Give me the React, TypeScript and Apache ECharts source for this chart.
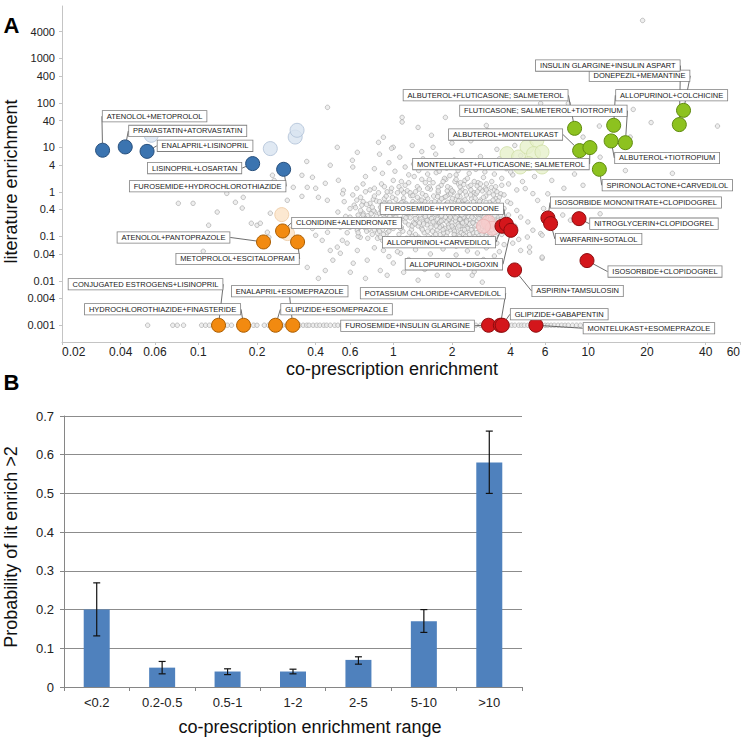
import React, { useEffect, useRef } from "react";
import * as echarts from "echarts";

const FONT = "'Liberation Sans', Arial, Helvetica, sans-serif";

// ---------- Panel A : axes ----------
const X_TICKS = [0.02, 0.04, 0.06, 0.1, 0.2, 0.4, 0.6, 1, 2, 4, 6, 10, 20, 40, 60];
const Y_TICKS = [0.001, 0.004, 0.01, 0.04, 0.1, 0.4, 1, 4, 10, 40, 100, 400, 1000, 4000];
const X_MIN = 0.02;
const X_MAX = 60;
const Y_MIN = 0.00042;
const Y_MAX = 15000;

// ---------- Panel A : gray background pairs ----------
const GRAY_OUTLIERS: [number, number][] = [
  [19, 7100], [0.46, 79], [1.11, 47], [1.11, 37], [1.85, 47], [1.34, 28], [1.57, 18.6], [3.0, 31], [3.05, 24],
  [5.7, 97], [7.9, 97], [17, 71], [21, 36], [46, 30], [9.4, 17], [16.4, 17], [11.5, 6], [15.5, 3.0], [27, 2.6],
  [11.4, 30], [0.89, 16.8], [1.0, 10], [4.75, 1.18], [5.2, 0.91], [5.5, 0.64], [5.9, 0.42], [4.5, 0.27],
  [4.9, 0.21], [5.2, 0.137], [5.7, 0.115], [4.87, 0.096], [5.0, 0.057], [5.8, 0.032], [7.4, 0.3], [8.1, 0.23],
  [11.5, 0.32], [9.4, 1.4], [7.45, 0.081], [4.1, 0.07], [1.34, 0.0103], [1.91, 0.0133], [2.86, 0.0093],
  [2.54, 0.0133], [1.68, 0.0133], [5.8, 0.106], [5.8, 0.034], [5.0, 0.044], [4.5, 0.048],
];

const GRAY_LEFT: [number, number][] = [
  [0.079, 0.55], [0.094, 0.55], [0.155, 0.58], [0.14, 0.92], [0.168, 0.43], [0.125, 0.35], [0.113, 0.177],
  [0.187, 0.196], [0.2, 0.177], [0.106, 0.046], [0.226, 0.123], [0.23, 0.095], [0.17, 0.75], [0.24, 2.35],
  [0.245, 1.8], [0.34, 2.35], [0.36, 4.8], [0.475, 3.95], [0.617, 5.1], [0.516, 10], [0.654, 7.7], [0.84, 12.9],
  [0.385, 2.12], [0.307, 1.26], [0.362, 1.26], [0.4, 1.2], [0.448, 1.55], [0.523, 1.81], [0.555, 1.08],
  [0.286, 0.644], [0.34, 0.79], [0.413, 0.75], [0.459, 0.644], [0.234, 0.33], [0.208, 0.196], [0.385, 0.15],
  [0.4, 0.105], [0.432, 0.081], [0.46, 0.123], [0.475, 0.048], [0.362, 0.02], [0.413, 0.0113], [0.448, 0.017],
  [0.602, 0.0155], [0.72, 0.0113], [0.623, 0.0248], [0.735, 0.029], [0.858, 0.017], [0.535, 0.0415],
  [0.49, 0.029], [0.93, 0.0133], [0.548, 0.081], [0.58, 0.07], [0.516, 0.057], [0.654, 0.048], [0.677, 0.095],
  [0.49, 0.229], [0.535, 0.16], [0.6, 0.16], [0.6, 0.27], [0.654, 0.137], [0.7, 0.33], [0.745, 0.177],
  [0.83, 0.117], [0.83, 0.229], [0.88, 0.081], [0.89, 0.048], [0.965, 0.16], [1.0, 0.025], [1.09, 0.0415],
  [1.13, 0.0155],
];

const GRAY_LEFT_CORE: [number, number][] = [
  [0.52, 0.35], [0.54, 0.18], [0.56, 0.6], [0.58, 0.12], [0.6, 0.42], [0.62, 0.85], [0.64, 0.23], [0.66, 0.1],
  [0.68, 0.38], [0.7, 0.18], [0.72, 1.0], [0.74, 0.29], [0.76, 0.55], [0.78, 0.11], [0.8, 0.36], [0.82, 0.16],
  [0.84, 0.95], [0.86, 0.45], [0.88, 0.14], [0.9, 0.7], [0.92, 0.31], [0.94, 0.09], [0.55, 0.9], [0.6, 0.22],
  [0.65, 1.2], [0.7, 0.6], [0.75, 0.4], [0.8, 0.24], [0.85, 0.13], [0.9, 0.42], [0.95, 0.19], [0.57, 0.28],
  [0.63, 0.5], [0.67, 0.16], [0.73, 0.21], [0.79, 0.68], [0.83, 0.09], [0.89, 0.3], [0.93, 0.56], [0.97, 1.0],
];

const GRAY_CORE: [number, number][] = [
  [0.62, 0.21], [0.64, 0.44], [0.66, 0.12], [0.68, 0.75], [0.7, 0.3], [0.71, 0.16], [0.73, 0.52], [0.74, 0.09],
  [0.76, 1.1], [0.77, 0.24], [0.79, 0.38], [0.8, 0.14], [0.82, 0.62], [0.83, 0.2], [0.85, 0.33], [0.86, 0.095],
  [0.87, 1.5], [0.88, 0.47], [0.9, 0.26], [0.91, 0.17], [0.92, 0.8], [0.93, 0.12], [0.95, 0.36], [0.96, 0.58],
  [0.97, 0.22], [0.98, 1.2], [1.0, 0.15], [1.0, 0.42], [1.01, 0.29], [1.02, 0.07], [1.03, 0.68], [1.04, 0.19],
  [1.05, 0.95], [1.06, 0.34], [1.07, 0.11], [1.08, 0.5], [1.09, 0.24], [1.1, 1.7], [1.1, 0.16], [1.11, 0.39],
  [1.12, 0.13], [1.13, 0.72], [1.14, 0.28], [1.15, 0.21], [1.16, 0.55], [1.17, 0.09], [1.18, 1.05], [1.19, 0.33],
  [1.2, 0.18], [1.21, 0.45], [1.22, 0.26], [1.23, 0.82], [1.24, 0.14], [1.25, 0.37], [1.26, 0.6], [1.27, 0.2],
  [1.28, 2.2], [1.29, 0.3], [1.3, 0.11], [1.31, 0.48], [1.32, 0.23], [1.33, 1.3], [1.34, 0.17], [1.35, 0.4],
  [1.36, 0.08], [1.37, 0.65], [1.38, 0.27], [1.39, 0.35], [1.4, 0.15], [1.41, 0.9], [1.42, 0.21], [1.43, 0.52],
  [1.44, 0.12], [1.45, 0.32], [1.46, 1.6], [1.47, 0.25], [1.48, 0.44], [1.49, 0.18], [1.5, 0.7], [1.51, 0.1],
  [1.52, 0.29], [1.53, 0.38], [1.54, 0.22], [1.55, 1.15], [1.56, 0.16], [1.57, 0.57], [1.58, 0.34], [1.59, 0.13],
  [1.6, 0.26], [1.61, 0.8], [1.62, 0.42], [1.63, 0.19], [1.64, 0.07], [1.65, 0.31], [1.66, 2.7], [1.67, 0.5],
  [1.68, 0.14], [1.69, 0.24], [1.7, 0.95], [1.71, 0.36], [1.72, 0.2], [1.73, 0.62], [1.74, 0.11], [1.75, 0.28],
  [1.76, 1.4], [1.77, 0.17], [1.78, 0.46], [1.79, 0.33], [1.8, 0.09], [1.81, 0.23], [1.82, 0.74], [1.83, 0.4],
  [1.84, 0.15], [1.85, 0.27], [1.86, 1.9], [1.87, 0.54], [1.88, 0.21], [1.89, 0.12], [1.9, 0.35], [1.91, 0.85],
  [1.92, 0.18], [1.93, 0.3], [1.94, 0.43], [1.95, 0.25], [1.96, 1.2], [1.97, 0.14], [1.98, 0.6], [1.99, 0.38],
  [2.0, 0.2], [2.01, 0.08], [2.02, 0.32], [2.03, 0.99], [2.04, 0.16], [2.05, 0.48], [2.06, 0.27], [2.07, 0.11],
  [2.08, 0.68], [2.09, 0.22], [2.1, 2.4], [2.11, 0.37], [2.12, 0.13], [2.13, 0.29], [2.14, 0.55], [2.15, 0.19],
  [2.16, 1.5], [2.17, 0.41], [2.18, 0.24], [2.19, 0.1], [2.2, 0.78], [2.21, 0.31], [2.22, 0.17], [2.23, 0.45],
  [2.24, 0.21], [2.25, 1.1], [2.26, 0.14], [2.27, 0.35], [2.28, 0.62], [2.29, 0.26], [2.3, 0.09], [2.31, 0.5],
  [2.32, 0.19], [2.33, 1.8], [2.34, 0.3], [2.35, 0.12], [2.36, 0.4], [2.37, 0.85], [2.38, 0.23], [2.39, 0.16],
  [2.4, 0.57], [2.42, 0.28], [2.44, 1.3], [2.46, 0.11], [2.48, 0.36], [2.5, 0.2], [2.52, 0.7], [2.54, 0.14],
  [2.56, 0.44], [2.58, 0.25], [2.6, 0.95], [2.62, 0.17], [2.64, 0.33], [2.66, 0.08], [2.68, 0.52], [2.7, 0.22],
  [2.72, 1.6], [2.74, 0.29], [2.76, 0.13], [2.78, 0.4], [2.8, 0.65], [2.82, 0.18], [2.84, 0.26], [2.86, 1.05],
  [2.88, 0.1], [2.9, 0.35], [2.92, 0.21], [2.94, 0.48], [2.96, 0.15], [2.98, 0.8], [3.0, 0.27], [3.03, 0.12],
  [3.06, 0.38], [3.09, 0.19], [3.12, 0.58], [3.15, 0.24], [3.18, 1.25], [3.21, 0.09], [3.24, 0.31], [3.27, 0.16],
  [3.3, 0.45], [3.33, 0.22], [3.36, 0.7], [3.4, 0.13], [3.44, 0.28], [3.48, 0.37], [3.52, 0.18], [3.56, 0.9],
  [3.6, 0.11], [3.65, 0.24], [3.7, 0.42], [3.78, 0.15], [3.85, 0.6], [3.95, 0.2],
  [1.12, 0.6], [1.15, 1.4], [1.18, 0.075], [1.22, 0.95], [1.25, 0.17], [1.3, 0.55], [1.33, 0.085], [1.36, 1.15],
  [1.4, 0.46], [1.43, 0.19], [1.47, 0.82], [1.5, 0.13], [1.53, 1.9], [1.57, 0.25], [1.6, 0.066], [1.63, 0.6],
  [1.67, 0.33], [1.7, 1.25], [1.73, 0.16], [1.77, 0.7], [1.8, 0.4], [1.83, 2.0], [1.87, 0.1], [1.9, 0.58],
  [1.93, 0.24], [1.97, 0.9], [2.0, 0.45], [2.03, 0.15], [2.07, 1.7], [2.1, 0.06], [2.13, 0.8], [2.17, 0.34],
  [2.2, 1.3], [2.23, 0.12], [2.27, 0.52], [2.3, 0.27], [2.34, 1.0], [2.38, 0.075], [2.42, 0.46], [2.46, 0.19],
  [2.5, 1.4], [2.54, 0.32], [2.58, 0.6], [2.62, 0.1], [2.66, 0.9], [2.7, 0.4], [2.74, 0.16], [2.78, 1.2],
  [2.82, 0.5], [2.86, 0.068], [2.9, 0.75], [2.95, 0.3], [3.0, 1.5], [3.05, 0.18], [3.1, 0.95], [3.15, 0.43],
  [3.2, 0.14], [3.25, 0.65], [3.3, 1.1], [3.35, 0.1], [3.4, 0.5], [3.45, 0.23], [3.5, 0.75], [0.95, 0.13],
  [0.99, 0.75], [1.03, 0.27], [1.07, 1.3], [0.9, 0.55], [0.86, 0.19], [0.82, 0.28], [0.78, 0.45], [0.75, 0.14],
  [0.72, 0.25], [0.69, 0.5], [0.66, 0.3], [0.63, 0.17],
];

const GRAY_CORE_DENSE: [number, number][] = [
  [3.45, 0.62], [3.38, 0.16], [3.32, 0.29], [3.26, 0.85], [3.2, 0.22], [3.14, 0.11], [3.08, 0.48], [3.02, 0.2],
  [2.97, 1.2], [2.93, 0.13], [2.89, 0.42], [2.85, 0.24], [2.81, 0.09], [2.77, 0.6], [2.73, 0.33], [2.69, 1.35],
  [2.65, 0.18], [2.61, 0.47], [2.57, 0.12], [2.53, 0.27], [2.49, 0.85], [2.45, 0.38], [2.41, 0.15], [2.37, 0.21],
  [2.33, 0.66], [2.29, 0.11], [2.25, 0.3], [2.21, 1.6], [2.17, 0.17], [2.13, 0.44], [2.09, 0.26], [2.05, 0.095],
  [2.01, 0.7], [1.97, 0.36], [1.93, 0.16], [1.89, 1.05], [1.85, 0.5], [1.81, 0.12], [1.77, 0.29], [1.73, 0.21],
  [1.69, 0.78], [1.65, 0.45], [1.61, 0.1], [1.57, 0.37], [1.53, 1.3], [1.49, 0.23], [1.45, 0.6], [1.41, 0.14],
  [1.37, 0.3], [1.33, 0.75], [1.29, 0.19], [1.25, 0.5], [1.21, 0.12], [1.17, 0.33], [1.13, 0.95], [1.09, 0.15],
  [1.05, 0.52], [1.01, 0.22], [0.97, 0.4], [0.93, 1.0], [0.89, 0.11], [0.85, 0.6], [0.81, 0.18], [0.77, 0.32],
  [0.73, 0.13], [0.69, 0.22], [0.65, 0.65],
  [3.55, 0.3], [3.42, 0.42], [3.28, 0.19], [3.12, 0.34], [2.99, 0.58], [2.87, 0.17], [2.75, 0.25], [2.63, 0.72],
  [2.51, 0.14], [2.39, 0.33], [2.27, 0.2], [2.16, 0.62], [2.06, 0.13], [1.96, 0.27], [1.86, 0.78], [1.76, 0.22],
  [1.66, 0.17], [1.56, 0.44], [1.46, 0.28], [1.36, 0.2], [1.26, 0.82], [1.16, 0.26], [1.06, 0.17], [0.96, 0.28],
  [0.87, 0.38], [3.5, 0.15], [3.35, 1.3], [3.18, 0.5], [3.05, 0.09], [2.92, 0.27], [2.8, 0.37], [2.68, 0.12],
  [2.56, 0.2], [2.44, 0.5], [2.32, 0.14], [2.2, 0.24], [2.1, 0.4], [2.0, 0.17], [1.9, 0.47], [1.8, 0.14],
  [1.7, 0.4], [1.6, 0.21], [1.5, 0.34], [1.4, 0.65], [1.3, 0.25], [1.2, 0.38], [1.1, 0.57], [1.0, 0.33],
  [0.9, 0.2], [0.8, 0.8],
  [0.9, 1.3], [1.0, 1.8], [1.1, 1.1], [1.2, 1.6], [1.3, 1.0], [1.4, 1.9], [1.5, 1.2], [1.6, 1.6], [1.7, 1.05],
  [1.8, 1.7], [1.9, 1.3], [2.0, 1.05], [2.1, 1.9], [2.2, 1.0], [2.3, 1.45], [2.4, 2.0], [2.5, 1.1], [2.6, 1.7],
  [2.7, 1.0], [2.8, 1.5], [2.9, 2.1], [3.0, 1.1], [3.2, 1.7], [3.4, 1.0], [3.6, 1.4], [0.8, 1.2], [0.7, 1.5],
  [1.0, 0.085], [1.15, 0.065], [1.35, 0.095], [1.55, 0.07], [1.75, 0.08], [1.95, 0.065], [2.15, 0.085],
  [2.35, 0.1], [2.55, 0.07], [2.75, 0.09], [2.95, 0.065], [3.15, 0.08], [3.4, 0.07], [1.25, 0.1], [1.65, 0.11],
  [2.05, 0.11], [2.45, 0.085], [2.85, 0.11],
];

const GRAY_UPPER: [number, number][] = [
  [0.72, 2.2], [0.8, 3.3], [0.88, 2.6], [0.95, 4.5], [1.02, 2.9], [1.08, 6.0], [1.15, 3.6], [1.2, 2.4],
  [1.27, 4.2], [1.35, 3.0], [1.42, 5.5], [1.5, 2.5], [1.58, 3.8], [1.65, 7.0], [1.72, 2.9], [1.8, 4.6],
  [1.88, 3.4], [1.95, 2.3], [2.05, 5.2], [2.15, 3.0], [2.25, 8.5], [2.35, 3.9], [2.45, 2.6], [2.55, 4.8],
  [2.65, 3.2], [2.8, 6.2], [2.95, 2.8], [3.1, 4.0], [3.3, 2.5], [3.5, 5.5], [3.8, 3.3], [4.1, 2.4], [4.5, 6.5],
  [0.98, 9.5], [1.25, 11], [1.6, 10], [2.0, 12.5], [2.5, 14], [3.4, 9], [4.2, 11], [1.4, 8], [0.85, 7], [0.62, 3.6],
  [3.6, 2.0], [3.9, 1.5], [4.3, 1.1], [4.0, 2.8], [4.6, 1.7], [5.3, 2.2], [4.8, 4.2], [5.8, 3.5], [6.5, 1.8],
  [7.0, 5.0], [6.2, 0.9], [7.5, 1.2], [8.5, 2.5], [3.7, 0.85], [4.0, 0.55], [4.3, 0.38], [3.9, 0.3], [4.2, 0.17],
  [3.8, 0.12], [4.4, 0.085], [3.7, 0.065],
];

const GRAY_LOWER: [number, number][] = [
  [0.8, 0.055], [1.05, 0.045], [1.3, 0.05], [1.55, 0.04], [1.8, 0.052], [2.1, 0.038], [2.4, 0.047], [2.7, 0.042],
  [3.0, 0.055], [3.3, 0.036], [1.2, 0.03], [1.7, 0.027], [2.2, 0.022], [2.9, 0.03], [3.5, 0.045], [0.95, 0.035],
  [1.45, 0.018], [2.6, 0.016], [3.2, 0.02],
];

// pairs with no literature co-mention sit on the 0.001 floor
const ROW_Y = 0.001;
const ROW_X = [
  0.055, 0.074, 0.078, 0.084, 0.104, 0.109, 0.114, 0.141, 0.148, 0.192, 0.2, 0.218, 0.229,
  0.24, 0.25, 0.262, 0.27, 0.283, 0.29, 0.305, 0.318, 0.33, 0.345, 0.36, 0.37, 0.388, 0.405, 0.42, 0.44,
  0.455, 0.475, 0.5, 0.52, 0.545, 0.57, 0.6, 0.63, 0.66, 0.7, 0.74, 0.78, 0.83, 0.88, 0.93, 0.98, 1.04,
  1.1, 1.17, 1.25, 1.32, 1.4, 1.5, 1.6, 1.7, 1.8, 1.92, 2.05, 2.2, 2.35, 2.5, 2.65, 2.8, 2.95, 3.1, 3.25,
  3.4, 3.6, 3.75, 3.9, 4.05, 4.2, 4.4, 4.55, 4.7, 4.9, 5.1, 5.3, 5.5, 5.75, 6.0, 6.2, 6.45, 6.7, 7.0, 7.3,
  7.6, 7.9, 8.3, 8.7, 9.1,
];

// ---------- Panel A : highlighted pairs ----------
const BLUE: [string, number, number][] = [
  ["ATENOLOL+METOPROLOL", 0.0323, 8.6],
  ["PRAVASTATIN+ATORVASTATIN", 0.0422, 10.2],
  ["ENALAPRIL+LISINOPRIL", 0.0546, 8.1],
  ["LISINOPRIL+LOSARTAN", 0.19, 4.3],
  ["FUROSEMIDE+HYDROCHLOROTHIAZIDE", 0.274, 3.2],
];
const BLUE_FADED: [number, number][] = [[0.0574, 18.6], [0.234, 9.35], [0.314, 17.0], [0.321, 24.1]];

const GREEN: [string, number, number][] = [
  ["DONEPEZIL+MEMANTINE", 30.8, 67.8],
  ["INSULIN GLARGINE+INSULIN ASPART", 29.3, 32.4],
  ["ALBUTEROL+FLUTICASONE; SALMETEROL", 8.51, 26.7],
  ["ALLOPURINOL+COLCHICINE", 13.5, 31.2],
  ["ALBUTEROL+TIOTROPIUM", 13.1, 13.9],
  ["FLUTICASONE; SALMETEROL+TIOTROPIUM", 15.5, 12.7],
  ["ALBUTEROL+MONTELUKAST", 9.03, 8.42],
  ["MONTELUKAST+FLUTICASONE; SALMETEROL", 10.2, 9.85],
  ["SPIRONOLACTONE+CARVEDILOL", 11.4, 3.2],
];
const GREEN_FADED: [number, number][] = [
  [3.83, 7.2], [4.39, 6.06], [4.85, 10.2], [5.45, 14.4], [5.24, 7.2], [5.79, 7.84], [4.48, 3.61], [5.79, 3.61], [4.94, 4.3],
];

const ORANGE: [string, number, number][] = [
  ["ATENOLOL+PANTOPRAZOLE", 0.216, 0.0745],
  ["CLONIDINE+ALENDRONATE", 0.2705, 0.1316],
  ["METOPROLOL+ESCITALOPRAM", 0.323, 0.0745],
  ["CONJUGATED ESTROGENS+LISINOPRIL", 0.127, 0.001],
  ["HYDROCHLOROTHIAZIDE+FINASTERIDE", 0.1707, 0.001],
  ["GLIPIZIDE+ESOMEPRAZOLE", 0.249, 0.001],
  ["ENALAPRIL+ESOMEPRAZOLE", 0.305, 0.001],
];
const ORANGE_FADED: [number, number][] = [[0.268, 0.307], [0.287, 0.115]];

const RED: [string, number, number][] = [
  ["ALLOPURINOL+CARVEDILOL", 3.61, 0.168],
  ["FUROSEMIDE+HYDROCODONE", 3.8, 0.186],
  ["ALLOPURINOL+DIGOXIN", 4.01, 0.136],
  ["ISOSORBIDE MONONITRATE+CLOPIDOGREL", 6.21, 0.258],
  ["WARFARIN+SOTALOL", 6.41, 0.193],
  ["NITROGLYCERIN+CLOPIDOGREL", 8.96, 0.249],
  ["ISOSORBIDE+CLOPIDOGREL", 9.85, 0.0284],
  ["ASPIRIN+TAMSULOSIN", 4.19, 0.0175],
  ["FUROSEMIDE+INSULIN GLARGINE", 3.08, 0.001],
  ["POTASSIUM CHLORIDE+CARVEDILOL", 3.54, 0.001],
  ["GLIPIZIDE+GABAPENTIN", 3.62, 0.001],
  ["MONTELUKAST+ESOMEPRAZOLE", 5.39, 0.001],
];
const RED_FADED: [number, number][] = [[3.07, 0.206], [3.22, 0.151], [2.9, 0.168]];

// label box centre offset from its point (px)
const LABEL_OFFSETS: Record<string, [number, number]> = {
  "ATENOLOL+METOPROLOL": [52, -34],
  "PRAVASTATIN+ATORVASTATIN": [62.5, -16],
  "ENALAPRIL+LISINOPRIL": [58, -5.5],
  "LISINOPRIL+LOSARTAN": [-58, 4.5],
  "FUROSEMIDE+HYDROCHLOROTHIAZIDE": [-76, 17],
  "INSULIN GLARGINE+INSULIN ASPART": [-71.5, -59],
  "DONEPEZIL+MEMANTINE": [-44, -34.5],
  "ALLOPURINOL+COLCHICINE": [58, -30],
  "ALBUTEROL+FLUTICASONE; SALMETEROL": [-89, -33],
  "FLUTICASONE; SALMETEROL+TIOTROPIUM": [-82, -32],
  "ALBUTEROL+MONTELUKAST": [-74, -16],
  "MONTELUKAST+FLUTICASONE; SALMETEROL": [-89, 16.5],
  "ALBUTEROL+TIOTROPIUM": [56, 17],
  "SPIRONOLACTONE+CARVEDILOL": [68, 16],
  "ATENOLOL+PANTOPRAZOLE": [-90, -4.5],
  "CLONIDINE+ALENDRONATE": [64, -8],
  "METOPROLOL+ESCITALOPRAM": [-60, 17],
  "CONJUGATED ESTROGENS+LISINOPRIL": [-73, -41],
  "HYDROCHLOROTHIAZIDE+FINASTERIDE": [-81, -16],
  "ENALAPRIL+ESOMEPRAZOLE": [-3, -34],
  "GLIPIZIDE+ESOMEPRAZOLE": [61, -16],
  "FUROSEMIDE+HYDROCODONE": [-64.5, -15.5],
  "ALLOPURINOL+CARVEDILOL": [-63, 16],
  "ALLOPURINOL+DIGOXIN": [-57, 34],
  "ISOSORBIDE MONONITRATE+CLOPIDOGREL": [88, -15.5],
  "NITROGLYCERIN+CLOPIDOGREL": [75, 5],
  "WARFARIN+SOTALOL": [48, 15.5],
  "ISOSORBIDE+CLOPIDOGREL": [78, 11],
  "ASPIRIN+TAMSULOSIN": [63, 21],
  "POTASSIUM CHLORIDE+CARVEDILOL": [-67.5, -32],
  "GLIPIZIDE+GABAPENTIN": [57, -11],
  "FUROSEMIDE+INSULIN GLARGINE": [-81, 0.5],
  "MONTELUKAST+ESOMEPRAZOLE": [113, 3],
};

// ---------- Panel B ----------
const B_CATEGORIES = ["<0.2", "0.2-0.5", "0.5-1", "1-2", "2-5", "5-10", ">10"];
const B_VALUES = [0.2, 0.05, 0.04, 0.04, 0.07, 0.17, 0.58];
const B_LOW = [0.132, 0.034, 0.032, 0.034, 0.059, 0.141, 0.5];
const B_HIGH = [0.269, 0.066, 0.047, 0.046, 0.078, 0.2, 0.661];

const log10 = (v: number) => Math.log10(v);
const nearestLabel = (ticks: number[]) => (v: number) => {
  let best = ticks[0];
  let bd = Infinity;
  for (const t of ticks) {
    const d = Math.abs(log10(t) - v);
    if (d < bd) { bd = d; best = t; }
  }
  return String(best);
};

function highlight(items: [string, number, number][], fill: string, border: string) {
  return {
    type: "scatter",
    xAxisIndex: 0,
    yAxisIndex: 0,
    symbol: "circle",
    symbolSize: 14,
    z: 6,
    itemStyle: { color: fill, borderColor: border, borderWidth: 1, opacity: 1 },
    emphasis: { disabled: true },
    data: items.map(([n, x, y]) => ({ name: n, value: [x, y] })),
    label: {
      show: true,
      formatter: "{b}",
      fontFamily: FONT,
      fontSize: 7.5,
      lineHeight: 8,
      color: "#1a1a1a",
      backgroundColor: "#ffffff",
      borderColor: "#7f7f7f",
      borderWidth: 0.8,
      padding: [1.5, 4, 1, 4],
    },
    labelLine: { show: true, lineStyle: { color: "#4a4a4a", width: 0.8 } },
    labelLayout: (p: any) => {
      const name = items[p.dataIndex][0];
      const off = LABEL_OFFSETS[name] || [0, -15];
      const cx = p.rect.x + p.rect.width / 2;
      const cy = p.rect.y + p.rect.height / 2;
      return { x: cx + off[0], y: cy + off[1], align: "center", verticalAlign: "middle" };
    },
  };
}

function faded(items: [number, number][], fill: string, border: string) {
  return {
    type: "scatter",
    xAxisIndex: 0,
    yAxisIndex: 0,
    symbolSize: 14,
    z: 4,
    silent: true,
    itemStyle: { color: fill, borderColor: border, borderWidth: 1 },
    data: items,
  };
}

export default function App() {
  const ref = useRef<HTMLDivElement>(null);
  useEffect(() => {
    const chart = echarts.init(ref.current!, null, { renderer: "svg" });
    const gray = [
      ...GRAY_OUTLIERS, ...GRAY_LEFT, ...GRAY_LEFT_CORE, ...GRAY_CORE, ...GRAY_CORE_DENSE, ...GRAY_UPPER,
      ...GRAY_LOWER, ...ROW_X.map((x) => [x, ROW_Y]),
    ];
    const axisGray = "#c4c4c4";
    const option: any = {
      animation: false,
      backgroundColor: "#ffffff",
      textStyle: { fontFamily: FONT },
      grid: [
        { left: 62, top: 6, width: 678, height: 336 },
        { left: 64, top: 416, width: 458, height: 271 },
      ],
      xAxis: [
        { gridIndex: 0, type: "log", min: X_MIN, max: X_MAX, show: false, position: "bottom" },
        {
          gridIndex: 0,
          type: "value",
          position: "bottom",
          min: log10(X_MIN),
          max: log10(X_MAX),
          axisLine: { show: true, lineStyle: { color: axisGray, width: 1 } },
          axisTick: { show: true, length: 3, customValues: X_TICKS.map(log10), lineStyle: { color: axisGray } },
          axisLabel: {
            customValues: X_TICKS.map(log10),
            formatter: nearestLabel(X_TICKS),
            fontSize: 12,
            color: "#222",
            margin: 4,
            fontFamily: FONT,
            alignMinLabel: "left",
            alignMaxLabel: "right",
          },
          splitLine: { show: false },
        },
        {
          gridIndex: 1,
          type: "category",
          data: B_CATEGORIES,
          axisLine: { show: true, lineStyle: { color: "#868686" } },
          axisTick: { show: true, length: 4, lineStyle: { color: "#868686" } },
          axisLabel: { fontSize: 13, color: "#222", margin: 9, fontFamily: FONT },
        },
      ],
      yAxis: [
        { gridIndex: 0, type: "log", min: Y_MIN, max: Y_MAX, show: false, position: "left" },
        {
          gridIndex: 0,
          type: "value",
          position: "left",
          min: log10(Y_MIN),
          max: log10(Y_MAX),
          axisLine: { show: true, lineStyle: { color: axisGray, width: 1 } },
          axisTick: { show: true, length: 3, customValues: Y_TICKS.map(log10), lineStyle: { color: axisGray } },
          axisLabel: {
            customValues: Y_TICKS.map(log10),
            formatter: nearestLabel(Y_TICKS),
            fontSize: 11,
            color: "#222",
            margin: 7,
            fontFamily: FONT,
          },
          splitLine: { show: false },
        },
        {
          gridIndex: 1,
          type: "value",
          min: 0,
          max: 0.7,
          interval: 0.1,
          axisLine: { show: true, lineStyle: { color: "#868686" } },
          axisTick: { show: true, length: 4, lineStyle: { color: "#868686" } },
          axisLabel: { fontSize: 13, color: "#222", margin: 10, fontFamily: FONT },
          splitLine: { show: true, lineStyle: { color: "#8c8c8c", width: 1 } },
        },
      ],
      series: [
        {
          type: "scatter",
          xAxisIndex: 0,
          yAxisIndex: 0,
          symbolSize: 4.5,
          z: 2,
          silent: true,
          itemStyle: { color: "#eaeaea", borderColor: "#999999", borderWidth: 0.7 },
          data: gray,
        },
        faded(BLUE_FADED, "#d8e3f0", "#aebfd6"),
        faded(GREEN_FADED, "#e6f0cb", "#cfdfa6"),
        faded(ORANGE_FADED, "#fbe2c6", "#ecc9a2"),
        faded(RED_FADED, "#f6cccc", "#eab0b0"),
        highlight(BLUE, "#3b74b0", "#274f7c"),
        highlight(GREEN, "#8dc21f", "#5f8a10"),
        highlight(ORANGE, "#f28a10", "#a95c00"),
        highlight(RED, "#d4161b", "#8c0c0e"),
        {
          type: "bar",
          xAxisIndex: 2,
          yAxisIndex: 2,
          barWidth: 26,
          itemStyle: { color: "#4f81bd" },
          data: B_VALUES,
          z: 2,
        },
        {
          type: "custom",
          xAxisIndex: 2,
          yAxisIndex: 2,
          z: 5,
          encode: { x: 0, y: [1, 2] },
          data: B_CATEGORIES.map((_, i) => [i, B_LOW[i], B_HIGH[i]]),
          renderItem: (params: any, api: any) => {
            const i = api.value(0);
            const lo = api.coord([i, api.value(1)]);
            const hi = api.coord([i, api.value(2)]);
            const hw = 3.5;
            const st = { stroke: "#111", lineWidth: 1.2 };
            return {
              type: "group",
              children: [
                { type: "line", shape: { x1: lo[0], y1: lo[1], x2: hi[0], y2: hi[1] }, style: st },
                { type: "line", shape: { x1: hi[0] - hw, y1: hi[1], x2: hi[0] + hw, y2: hi[1] }, style: st },
                { type: "line", shape: { x1: lo[0] - hw, y1: lo[1], x2: lo[0] + hw, y2: lo[1] }, style: st },
              ],
            };
          },
        },
      ],
      graphic: [
        { type: "text", x: 11.5, y: 25, style: { text: "A", font: `bold 22px ${FONT}`, fill: "#000", align: "center", verticalAlign: "middle" } },
        { type: "text", x: 11.5, y: 382, style: { text: "B", font: `bold 22px ${FONT}`, fill: "#000", align: "center", verticalAlign: "middle" } },
        { type: "text", x: 11, y: 181.5, rotation: Math.PI / 2, style: { text: "literature enrichment", font: `18px ${FONT}`, fill: "#111", align: "center", verticalAlign: "middle" } },
        { type: "text", x: 392, y: 369, style: { text: "co-prescription enrichment", font: `18px ${FONT}`, fill: "#111", align: "center", verticalAlign: "middle" } },
        { type: "text", x: 11, y: 547, rotation: Math.PI / 2, style: { text: "Probability of lit enrich >2", font: `18px ${FONT}`, fill: "#111", align: "center", verticalAlign: "middle" } },
        { type: "text", x: 310, y: 727, style: { text: "co-prescription enrichment range", font: `18px ${FONT}`, fill: "#111", align: "center", verticalAlign: "middle" } },
      ],
    };
    chart.setOption(option);
    return () => chart.dispose();
  }, []);
  return (
    <div
      ref={ref}
      style={{ position: "fixed", left: 0, top: 0, width: 745, height: 740, background: "#fff" }}
    />
  );
}
